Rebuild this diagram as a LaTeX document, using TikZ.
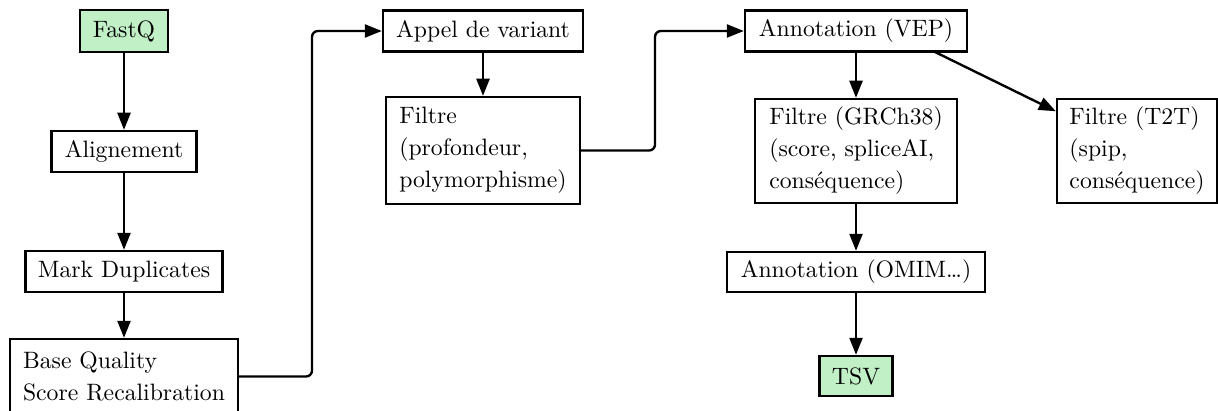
\documentclass[tikz,border=0pt]{standalone}
\usetikzlibrary{arrows.meta,calc}
\definecolor{iofill}{RGB}{193,239,198}
\begin{document}
\begin{tikzpicture}[x=0.422pt,y=-0.422pt,
  font=\fontsize{10}{13.5}\selectfont,
  every node/.style={draw,line width=1pt,inner sep=0pt,anchor=center},
  sz/.style 2 args={minimum width=#1*0.422pt,minimum height=#2*0.422pt},
  io/.style={fill=iofill},
  multi/.style={align=left},
  conn/.style={line width=1pt,-{Triangle[length=7.2pt,width=5.5pt]}},
  elbow/.style={conn,rounded corners=2.5pt}]
\useasboundingbox (0,0) rectangle (1218,411);
% left column: read preparation
\node[io,sz={88}{42}] (fastq) at (124,31) {FastQ};
\node[sz={145}{41}] (align) at (124,151.5) {Alignement};
\node[sz={197}{41}] (markdup) at (124,271.5) {Mark Duplicates};
\node[sz={228}{75},multi] (bqsr) at (124,376.5)
  {Base Quality\\Score Recalibration};
% middle column: variant calling
\node[sz={200}{41}] (call) at (483,31) {Appel de variant};
\node[sz={194}{107},multi] (filt) at (483,150.5)
  {Filtre\\(profondeur,\\polymorphisme)};
% right part: annotation and filtering
\node[sz={222}{41}] (vep) at (856,31) {Annotation (VEP)};
\node[sz={202}{104},multi] (grch) at (856,151)
  {Filtre (GRCh38)\\(score, spliceAI,\\conséquence)};
\node[sz={160}{104},multi] (t2t) at (1137,151)
  {Filtre (T2T)\\(spip,\\conséquence)};
\node[sz={258}{40}] (omim) at (856,272) {Annotation (OMIM…)};
\node[io,sz={73}{40}] (tsv) at (856,376) {TSV};
% bend columns of the elbow connectors
\coordinate (bendA) at (312,0);
\coordinate (bendB) at (655,0);
\coordinate (diagStart) at (935,52);
% connectors
\draw[conn] (fastq) -- (align);
\draw[conn] (align) -- (markdup);
\draw[conn] (markdup) -- (bqsr);
\draw[elbow] (bqsr.east) -- (bqsr.east -| bendA) -- (call.west -| bendA) -- (call.west);
\draw[conn] (call) -- (filt);
\draw[elbow] (filt.east) -- (filt.east -| bendB) -- (vep.west -| bendB) -- (vep.west);
\draw[conn] (vep) -- (grch);
\draw[conn] (diagStart) -- (t2t);
\draw[conn] (grch) -- (omim);
\draw[conn] (omim) -- (tsv);
\end{tikzpicture}
\end{document}
